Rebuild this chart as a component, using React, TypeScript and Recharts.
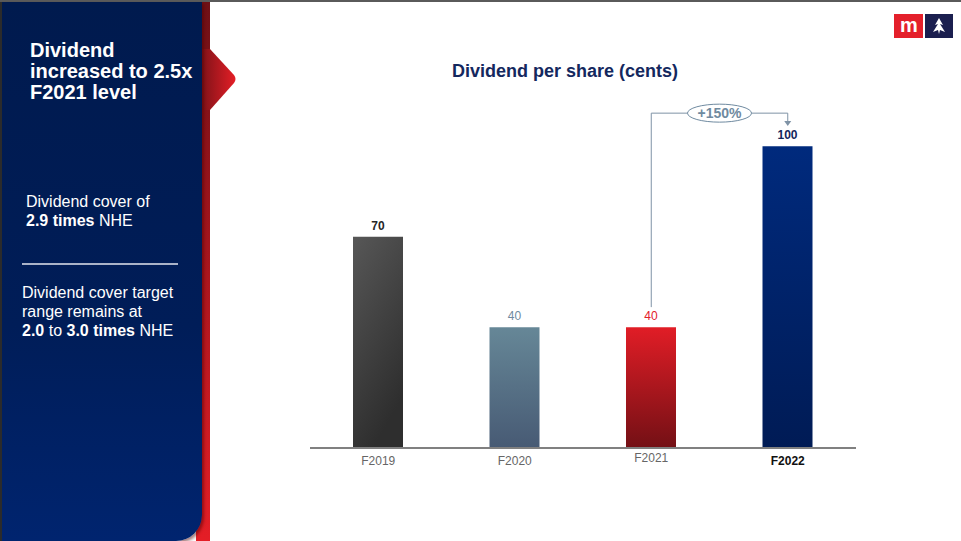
import { Bar, Cell, ComposedChart, LabelList, ReferenceDot, ReferenceLine, XAxis, YAxis } from "recharts";

const years = ["F2019", "F2020", "F2021", "F2022"];
const dividendCents = [70, 40, 40, 100];
const barFills = ["url(#gGrey)", "url(#gSteel)", "url(#gRed)", "url(#gNavy)"];
const labelColors = ["#262626", "#6f8aa0", "#e3202a", "#13265c"];
const labelWeights = [700, 400, 400, 700];

// bracket annotation (F2021 -> F2022)
const bracketFrom = 46.7;
const bracketTop = 111;
const arrowTip = 106.7;
const growthText = "+150%";

const data = years.map((year, i) => ({ year, value: dividendCents[i] }));

const FONT = "'Liberation Sans', Arial, Helvetica, sans-serif";

function BarValue(props: any) {
  const { x, y, width, value, index } = props;
  return (
    <text
      x={x + width / 2}
      y={y - 7}
      textAnchor="middle"
      fontSize={12}
      fontFamily={FONT}
      fontWeight={labelWeights[index]}
      fill={labelColors[index]}
    >
      {value}
    </text>
  );
}

function YearTick(props: any) {
  const { x, y, payload, index } = props;
  const last = index === years.length - 1;
  return (
    <text
      x={x}
      y={y + (index === 2 ? 14 : 17)}
      textAnchor="middle"
      fontSize={12}
      fontFamily={FONT}
      fontWeight={last ? 700 : 400}
      fill={last ? "#111" : "#666"}
    >
      {payload.value}
    </text>
  );
}

function GrowthBadge(props: any) {
  const vb = props.viewBox || {};
  const cx = vb.x + (vb.width || 0) / 2;
  const cy = vb.y + (vb.height || 0) / 2;
  return (
    <g>
      <ellipse cx={cx} cy={cy} rx={32} ry={9} fill="#fff" stroke="#6f8aa0" strokeWidth={1} />
      <text x={cx} y={cy + 5} textAnchor="middle" fontSize={14} fontWeight={700} fontFamily={FONT} fill="#6f8aa0">
        {growthText}
      </text>
    </g>
  );
}

function ArrowHead(props: any) {
  const { cx, cy } = props;
  return <polygon points={`${cx - 3.5},${cy - 5} ${cx + 3.5},${cy - 5} ${cx},${cy}`} fill="#7f93a6" />;
}

export default function App() {
  return (
    <div style={{ position: "absolute", left: 0, top: 0, width: 961, height: 541, background: "#fff", overflow: "hidden", fontFamily: FONT }}>
      <ComposedChart
        width={961}
        height={541}
        data={data}
        margin={{ top: 86, right: 105, bottom: 63, left: 310 }}
        style={{ position: "absolute", left: 0, top: 0 }}
      >
        <defs>
          <linearGradient id="gGrey" x1="0" y1="0" x2="0.4" y2="1">
            <stop offset="0%" stopColor="#575757" />
            <stop offset="100%" stopColor="#2e2e2e" />
          </linearGradient>
          <linearGradient id="gSteel" x1="0" y1="0" x2="0" y2="1">
            <stop offset="0%" stopColor="#668797" />
            <stop offset="100%" stopColor="#475a74" />
          </linearGradient>
          <linearGradient id="gRed" x1="0" y1="0" x2="0" y2="1">
            <stop offset="0%" stopColor="#e11d26" />
            <stop offset="100%" stopColor="#731015" />
          </linearGradient>
          <linearGradient id="gNavy" x1="0" y1="0" x2="0" y2="1">
            <stop offset="0%" stopColor="#002a7d" />
            <stop offset="100%" stopColor="#001b55" />
          </linearGradient>
        </defs>
        <XAxis
          dataKey="year"
          height={30}
          tickLine={false}
          tickSize={0}
          tickMargin={0}
          axisLine={{ stroke: "#808080", strokeWidth: 2 }}
          tick={<YearTick />}
          interval={0}
        />
        <YAxis hide domain={[0, 120]} />
        <Bar dataKey="value" barSize={50} isAnimationActive={false}>
          {data.map((d, i) => (
            <Cell key={d.year} fill={barFills[i]} />
          ))}
          <LabelList dataKey="value" content={<BarValue />} />
        </Bar>
        <ReferenceLine
          segment={[{ x: years[2], y: bracketFrom }, { x: years[2], y: bracketTop }]}
          stroke="#7f93a6"
          strokeWidth={1}
          ifOverflow="visible"
        />
        <ReferenceLine
          segment={[{ x: years[2], y: bracketTop }, { x: years[3], y: bracketTop }]}
          stroke="#7f93a6"
          strokeWidth={1}
          ifOverflow="visible"
          label={<GrowthBadge />}
        />
        <ReferenceLine
          segment={[{ x: years[3], y: bracketTop }, { x: years[3], y: arrowTip + 1 }]}
          stroke="#7f93a6"
          strokeWidth={1}
          ifOverflow="visible"
        />
        <ReferenceDot x={years[3]} y={arrowTip} r={3} ifOverflow="visible" shape={<ArrowHead />} />
        <text x={565} y={77} textAnchor="middle" fontSize={18} fontWeight={700} fontFamily={FONT} fill="#14285e">
          Dividend per share (cents)
        </text>
      </ComposedChart>

      {/* frame line */}
      <div style={{ position: "absolute", left: 0, top: 0, width: 961, height: 2, background: "#5a5a5a" }} />

      {/* red strip and arrow */}
      <div style={{ position: "absolute", left: 196, top: 2, width: 14, height: 539, background: "linear-gradient(180deg, #6e1016 0%, #a3151d 45%, #e41e26 100%)" }} />
      <svg style={{ position: "absolute", left: 200, top: 40, overflow: "visible" }} width={40} height={80}>
        <defs>
          <linearGradient id="gArrow" x1="0" y1="0" x2="1" y2="0">
            <stop offset="0%" stopColor="#7a1218" />
            <stop offset="100%" stopColor="#e41e26" />
          </linearGradient>
        </defs>
        <path d="M0 9 L10 9 L34 35 Q37 39 34 43 L10 70 L0 70 Z" fill="url(#gArrow)" />
      </svg>

      {/* navy side panel */}
      <div
        style={{
          position: "absolute",
          left: 0,
          top: 2,
          width: 202,
          height: 539,
          background: "linear-gradient(180deg, #001a4e 0%, #001d58 60%, #00246f 100%)",
          borderBottomRightRadius: 26,
          borderLeft: "2px solid #2b2b2b",
          boxSizing: "border-box",
          color: "#fff",
          boxShadow: "2px 2px 3px rgba(80,0,0,0.5)",
        }}
      >
        <div style={{ position: "absolute", left: 28, top: 38, fontSize: 20, fontWeight: 700, lineHeight: "21px", whiteSpace: "nowrap" }}>
          Dividend
          <br />
          increased to 2.5x
          <br />
          F2021 level
        </div>
        <div style={{ position: "absolute", left: 24, top: 190, fontSize: 16, lineHeight: "19px", whiteSpace: "nowrap" }}>
          Dividend cover of
          <br />
          <b>2.9 times</b> NHE
        </div>
        <div style={{ position: "absolute", left: 20, top: 261, width: 156, height: 2, background: "#aab3c8" }} />
        <div style={{ position: "absolute", left: 20, top: 281, fontSize: 16, lineHeight: "19px", whiteSpace: "nowrap" }}>
          Dividend cover target
          <br />
          range remains at
          <br />
          <b>2.0</b> to <b>3.0 times</b> NHE
        </div>
      </div>

      {/* logo */}
      <div style={{ position: "absolute", left: 894, top: 14, width: 29, height: 24, background: "#e4202b", color: "#fff", fontSize: 20, fontWeight: 700, lineHeight: "22px", textAlign: "center", letterSpacing: -1 }}>
        m
      </div>
      <svg style={{ position: "absolute", left: 925, top: 14 }} width={28} height={24}>
        <rect width={28} height={24} fill="#1b1f4f" />
        <path d="M14 4 L10 11 L13 10 L8 18 L13 16 L14 20 L15 16 L20 18 L15 10 L18 11 Z" fill="#fff" />
      </svg>
    </div>
  );
}
